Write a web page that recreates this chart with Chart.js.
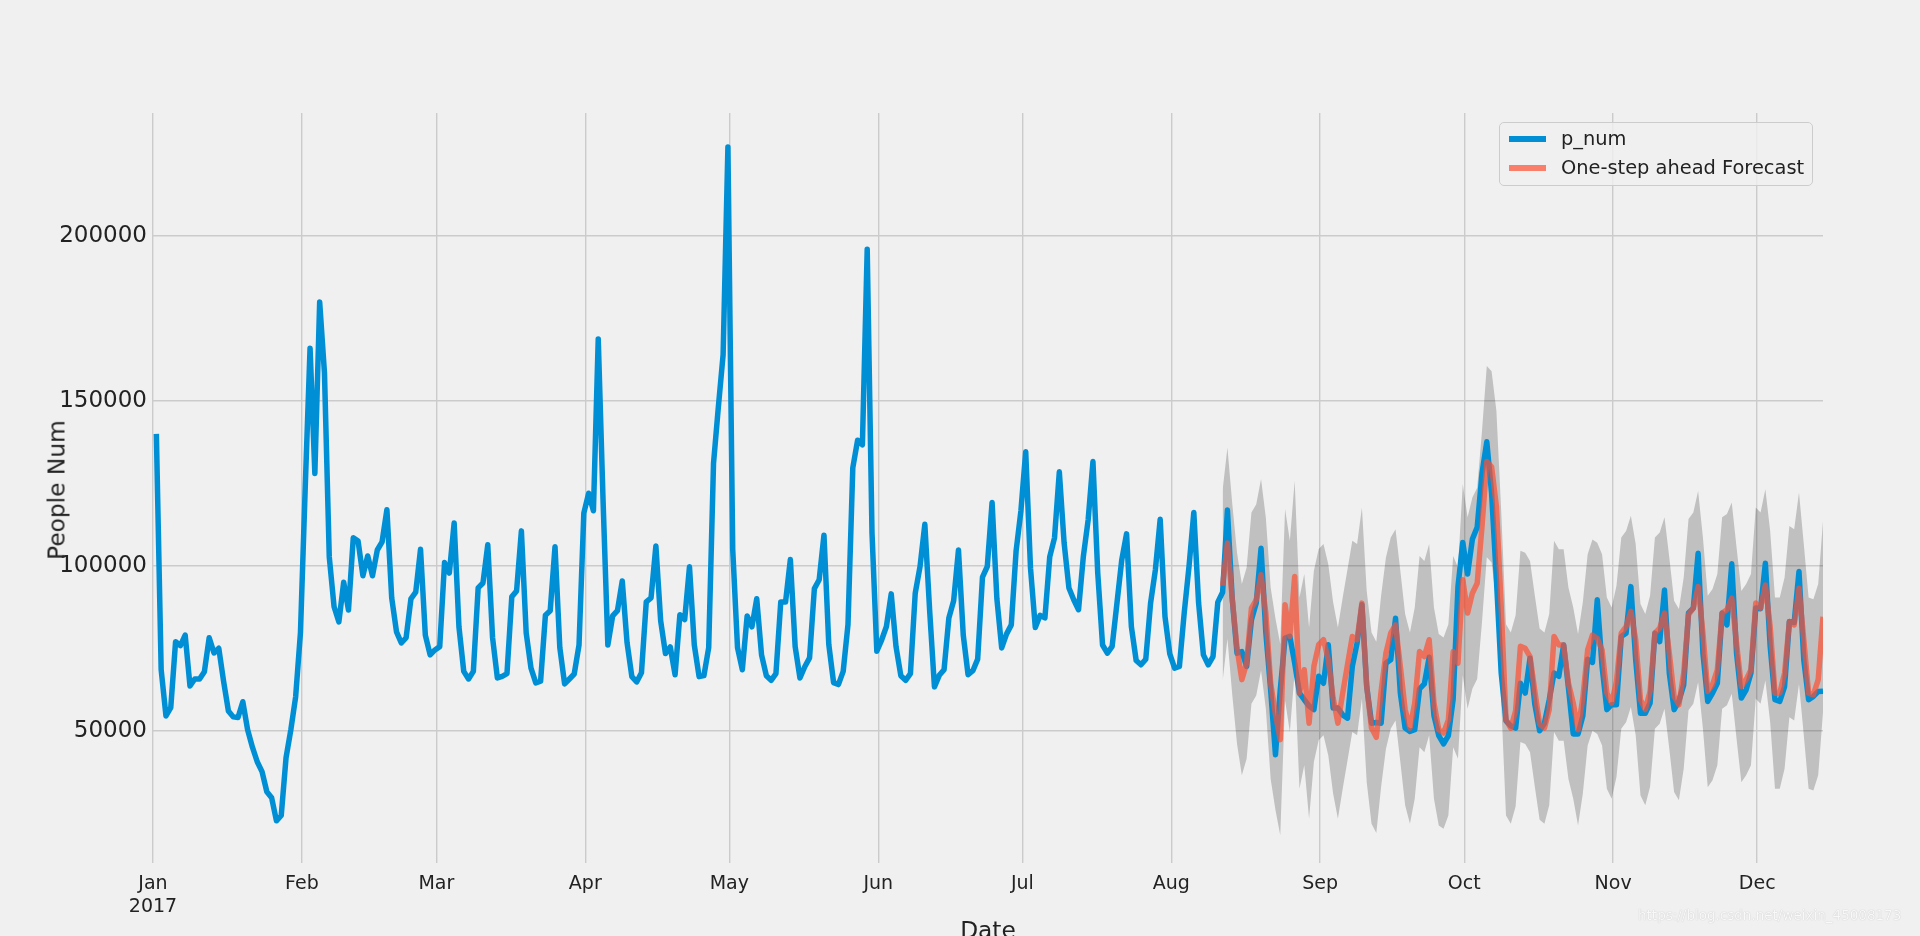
<!DOCTYPE html>
<html>
<head>
<meta charset="utf-8">
<script src="https://cdn.jsdelivr.net/npm/chart.js@4.4.1/dist/chart.umd.min.js"></script>
<style>
  body { margin: 0; background: #f0f0f0; font-family: "DejaVu Sans", sans-serif; }
  #wrap { position: relative; width: 1920px; height: 936px; overflow: hidden; background: #f0f0f0; }
  #chart { position: absolute; left: 0; top: 0; }
  .ylabel { position: absolute; left: 56px; top: 490px; transform: translate(-50%, -50%) rotate(-90deg); font-size: 23.3px; color: #222; white-space: nowrap; }
  .xlabel { position: absolute; left: 988px; top: 918px; transform: translateX(-50%); font-size: 23.3px; line-height: 1; color: #222; }
  .legend { position: absolute; left: 1499px; top: 122px; width: 314px; height: 64px; box-sizing: border-box; border: 1px solid #cccccc; border-radius: 5px; background: rgba(240,240,240,0.8); }
  .item { position: absolute; left: 0; height: 24px; font-size: 19.4px; line-height: 24px; color: #222; white-space: nowrap; }
  .swatch { position: absolute; left: 9px; top: 9px; width: 37px; height: 5.5px; }
  .item span { position: absolute; left: 61px; top: 0; }
  .mark { position: absolute; left: 1638px; top: 907px; font-size: 13.5px; color: rgba(255,255,255,0.9); text-shadow: 0 0 1px rgba(150,150,150,0.7); white-space: nowrap; }
</style>
</head>
<body>
<div id="wrap">
  <canvas id="chart" width="1920" height="936"></canvas>
  <div class="ylabel">People Num</div>
  <div class="xlabel">Date</div>
  <div class="legend">
    <div class="item" style="top:4px"><div class="swatch" style="background:#008fd5"></div><span>p_num</span></div>
    <div class="item" style="top:33px"><div class="swatch" style="background:rgba(252,79,48,0.7)"></div><span>One-step ahead Forecast</span></div>
  </div>
  <div class="mark">https://blog.csdn.net/weixin_45008173</div>
</div>
<script>
// daily people count, 2017-01-01 .. 2017-12-14
const pNum = [
  140000, 68500, 54500, 57000, 77000, 75800, 79000, 63600, 65700, 65700,
  67900, 78200, 73600, 75000, 65000, 56000, 54200, 54000, 58800, 50300,
  45000, 40600, 37600, 31500, 29700, 22700, 24300, 41800, 50300, 60300,
  79700, 124000, 166000, 128000, 180000, 158500, 102700, 87600, 83000, 95000,
  86600, 108500, 107500, 97000, 103000, 97000, 104800, 107300, 117000, 90300,
  80000, 76600, 78200, 90000, 92000, 105000, 79000, 73000, 74500, 75500,
  101000, 97800, 113000, 81500, 68000, 65700, 68000, 93300, 94800, 106400,
  78200, 66000, 66500, 67300, 90600, 92400, 110600, 79700, 69000, 64500,
  65000, 85000, 86400, 105800, 75200, 64200, 65700, 67200, 76000, 116000,
  122000, 116700, 168800, 120000, 76000, 84800, 86400, 95400, 76700, 66400,
  64800, 67600, 89100, 90300, 106000, 83300, 73400, 75400, 67000, 85200,
  83700, 99700, 76000, 66400, 66700, 75200, 131000, 148000, 164000, 227000,
  105000, 75200, 68500, 84800, 81500, 90000, 73000, 66700, 65300, 67300,
  89000, 89000, 101900, 75500, 66000, 69400, 72100, 93100, 95800, 109300,
  76200, 64600, 64000, 68000, 82200, 129700, 138100, 136700, 196000, 110000,
  74100, 77500, 81600, 91500, 75500, 66700, 65300, 67300, 91700, 99800,
  112600, 86500, 63300, 66800, 68500, 84200, 89400, 104800, 79000, 67000,
  68200, 71700, 96600, 99800, 119200, 90000, 75100, 79300, 82100, 104500,
  116600, 134600, 99300, 81300, 85000, 84200, 102700, 108500, 128500, 106900,
  93300, 89700, 86700, 102800, 113900, 131600, 97800, 76000, 73500, 75600,
  88700, 101800, 109700, 81600, 71300, 70000, 71700, 88700, 98800, 114100,
  84600, 73300, 69000, 69500, 85700, 99800, 116200, 88700, 73000, 70000,
  72500, 89000, 92000, 116900, 90000, 73500, 74000, 69500, 83600, 88700,
  105300, 79600, 62400, 42700, 62400, 78100, 78600, 70500, 61400, 59400,
  57500, 56400, 66500, 64400, 76100, 56900, 56900, 54800, 53800, 69500,
  76600, 88200, 63400, 52300, 52500, 52300, 70500, 71500, 84100, 61400,
  50800, 49800, 50300, 62700, 64200, 72300, 54600, 48500, 46000, 48500,
  59600, 93700, 107100, 97500, 108100, 111700, 128000, 137600, 122000, 96000,
  67500, 53000, 51500, 50800, 64400, 61400, 72000, 58000, 50000, 52300,
  59400, 67500, 66500, 76000, 63000, 49000, 49000, 54500, 71700, 70700,
  89700, 69500, 56400, 57900, 57900, 78600, 79600, 93700, 71500, 55300,
  55300, 58400, 79600, 77000, 92700, 67500, 56400, 59000, 63900, 85700,
  87200, 103800, 73500, 58900, 61400, 64400, 85700, 82100, 100600, 73500,
  59900, 62400, 67500, 87200, 87000, 100800, 75600, 59400, 58900, 63400,
  83100, 82800, 98300, 71500, 59400, 60400, 61900, 62000
];

// one-step ahead forecast starts at 2017-08-11 (day index 222)
const forecastStart = 222;
const forecast = [
  94000, 106900, 90000, 75000, 65500, 70500, 87200, 89700, 97300, 85600,
  64400, 55000, 47300, 88200, 78600, 96800, 61400, 68500, 52300, 69500,
  76100, 77600, 71500, 60000, 52300, 61400, 70000, 78600, 77600, 88700,
  63400, 50800, 48000, 62000, 73500, 79600, 82100, 69500, 56400, 50800,
  58400, 74000, 72500, 77600, 58400, 50300, 49300, 53300, 74000, 70500,
  95800, 85700, 91700, 94700, 111900, 131600, 130000, 118000, 87700, 53300,
  50800, 56000, 75600, 75000, 72500, 62000, 52000, 50800, 56400, 78600,
  76000, 76000, 64400, 58400, 50300, 60000, 74500, 79000, 78000, 74500,
  61400, 58400, 65000, 79600, 81600, 86200, 77600, 59400, 56400, 62000,
  79600, 81100, 85700, 73500, 60400, 57900, 67500, 85200, 87200, 93700,
  79600, 61900, 64000, 68500, 85700, 86700, 90200, 76600, 63400, 65500,
  68500, 88700, 87200, 94200, 81600, 61400, 61400, 67500, 83100, 82100,
  93200, 77600, 61400, 60900, 65500, 84600
];
const lowerCI = [
  65000, 77900, 61000, 46000, 36500, 41500, 58200, 60700, 68300, 56600,
  35400, 26000, 18300, 59200, 49600, 67800, 32400, 39500, 23300, 40500,
  47100, 48600, 42500, 31000, 23300, 32400, 41000, 49600, 48600, 59700,
  34400, 21800, 19000, 33000, 44500, 50600, 53100, 40500, 27400, 21800,
  29400, 45000, 43500, 48600, 29400, 21300, 20300, 24300, 45000, 41500,
  66800, 56700, 62700, 65700, 82900, 102600, 101000, 89000, 58700, 24300,
  21800, 27000, 46600, 46000, 43500, 33000, 23000, 21800, 27400, 49600,
  47000, 47000, 35400, 29400, 21300, 31000, 45500, 50000, 49000, 45500,
  32400, 29400, 36000, 50600, 52600, 57200, 48600, 30400, 27400, 33000,
  50600, 52100, 56700, 44500, 31400, 28900, 38500, 56200, 58200, 64700,
  50600, 32900, 35000, 39500, 56700, 57700, 61200, 47600, 34400, 36500,
  39500, 59700, 58200, 65200, 52600, 32400, 32400, 38500, 54100, 53100,
  64200, 48600, 32400, 31900, 36500, 55600
];
const upperCI = [
  123000, 135900, 119000, 104000, 94500, 99500, 116200, 118700, 126300, 114600,
  93400, 84000, 76300, 117200, 107600, 125800, 90400, 97500, 81300, 98500,
  105100, 106600, 100500, 89000, 81300, 90400, 99000, 107600, 106600, 117700,
  92400, 79800, 77000, 91000, 102500, 108600, 111100, 98500, 85400, 79800,
  87400, 103000, 101500, 106600, 87400, 79300, 78300, 82300, 103000, 99500,
  124800, 114700, 120700, 123700, 140900, 160600, 159000, 147000, 116700, 82300,
  79800, 85000, 104600, 104000, 101500, 91000, 81000, 79800, 85400, 107600,
  105000, 105000, 93400, 87400, 79300, 89000, 103500, 108000, 107000, 103500,
  90400, 87400, 94000, 108600, 110600, 115200, 106600, 88400, 85400, 91000,
  108600, 110100, 114700, 102500, 89400, 86900, 96500, 114200, 116200, 122700,
  108600, 90900, 93000, 97500, 114700, 115700, 119200, 105600, 92400, 94500,
  97500, 117700, 116200, 123200, 110600, 90400, 90400, 96500, 112100, 111100,
  122200, 106600, 90400, 89900, 94500, 113600
];

// month ticks (days since Jan 1) and labels
const monthDays = [0, 31, 59, 90, 120, 151, 181, 212, 243, 273, 304, 334];
const monthLabels = [["Jan", "2017"], "Feb", "Mar", "Apr", "May", "Jun", "Jul", "Aug", "Sep", "Oct", "Nov", "Dec"];
const yTicks = [50000, 100000, 150000, 200000];

// first sample sits a little after the Jan 1 tick
const dayOffset = 0.7;

const toPts = (arr, start) => arr.map((v, i) => ({ x: start + i + dayOffset, y: v }));

new Chart(document.getElementById("chart"), {
    type: "line",
    data: {
        datasets: [
            {
                label: "One-step ahead Forecast",
                data: toPts(forecast, forecastStart),
                borderColor: "rgba(252,79,48,0.7)",
                borderWidth: 5.5,
                borderJoinStyle: "round",
                pointRadius: 0,
                tension: 0,
                fill: false,
                order: 0
            },
            {
                label: "p_num",
                data: toPts(pNum, 0),
                borderColor: "#008fd5",
                borderWidth: 5.5,
                borderJoinStyle: "round",
                pointRadius: 0,
                tension: 0,
                fill: false,
                order: 1
            },
            {
                label: "lower",
                data: toPts(lowerCI, forecastStart),
                borderWidth: 0,
                pointRadius: 0,
                tension: 0,
                fill: false,
                order: 3
            },
            {
                label: "upper",
                data: toPts(upperCI, forecastStart),
                borderWidth: 0,
                pointRadius: 0,
                tension: 0,
                backgroundColor: "rgba(0,0,0,0.2)",
                fill: "-1",
                order: 2
            }
        ]
    },
    options: {
        responsive: false,
        animation: false,
        devicePixelRatio: 1,
        layout: { padding: { left: 0, right: 97, top: 113, bottom: 0 } },
        plugins: { legend: { display: false }, tooltip: { enabled: false } },
        scales: {
            x: {
                type: "linear",
                min: 0,
                max: 347 + dayOffset,
                afterFit: (s) => { s.height = 73; },
                afterBuildTicks: (s) => { s.ticks = monthDays.map(v => ({ value: v })); },
                ticks: {
                    autoSkip: false,
                    maxRotation: 0,
                    padding: 10,
                    color: "#222",
                    font: { family: "DejaVu Sans", size: 19 },
                    callback: (v, i) => monthLabels[i]
                },
                grid: { color: "#cbcbcb", lineWidth: 1.4, drawTicks: false },
                border: { display: false }
            },
            y: {
                min: 9900,
                max: 237300,
                afterFit: (s) => { s.width = 153; },
                afterBuildTicks: (s) => { s.ticks = yTicks.map(v => ({ value: v })); },
                ticks: {
                    padding: 6,
                    color: "#222",
                    font: { family: "DejaVu Sans", size: 23 },
                    callback: (v) => String(v)
                },
                grid: { color: "#cbcbcb", lineWidth: 1.4, drawTicks: false },
                border: { display: false }
            }
        }
    }
});
</script>
</body>
</html>
